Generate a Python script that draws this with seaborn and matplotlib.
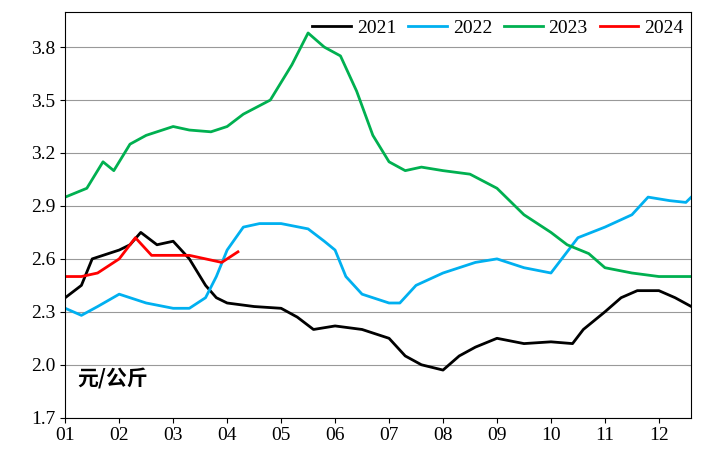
import pandas as pd
import matplotlib.pyplot as plt
import seaborn as sns

# month position (1 = Jan 1) and price
x_2021 = [1, 1.3, 1.5, 2, 2.2, 2.4, 2.7, 3.0, 3.3, 3.6, 3.8, 4, 4.5, 5, 5.3, 5.6, 6, 6.5, 7, 7.3, 7.6, 8,
          8.3, 8.6, 9, 9.5, 10, 10.4, 10.6, 11, 11.3, 11.6, 12, 12.3, 12.6]
y_2021 = [2.38, 2.45, 2.6, 2.65, 2.68, 2.75, 2.68, 2.7, 2.6, 2.45, 2.38, 2.35, 2.33, 2.32, 2.27, 2.2, 2.22,
          2.2, 2.15, 2.05, 2.0, 1.97, 2.05, 2.1, 2.15, 2.12, 2.13, 2.12, 2.2, 2.3, 2.38, 2.42, 2.42, 2.38, 2.33]
x_2022 = [1, 1.3, 1.6, 2, 2.5, 3, 3.3, 3.6, 3.8, 4.0, 4.3, 4.6, 5, 5.5, 5.8, 6, 6.2, 6.5, 7, 7.2, 7.5, 8,
          8.3, 8.6, 9, 9.5, 10, 10.2, 10.5, 11, 11.5, 11.8, 12.2, 12.5, 12.6]
y_2022 = [2.32, 2.28, 2.33, 2.4, 2.35, 2.32, 2.32, 2.38, 2.5, 2.65, 2.78, 2.8, 2.8, 2.77, 2.7, 2.65, 2.5,
          2.4, 2.35, 2.35, 2.45, 2.52, 2.55, 2.58, 2.6, 2.55, 2.52, 2.6, 2.72, 2.78, 2.85, 2.95, 2.93, 2.92, 2.95]
x_2023 = [1, 1.4, 1.7, 1.9, 2.2, 2.5, 3, 3.3, 3.7, 4, 4.3, 4.8, 5.2, 5.5, 5.8, 6.1, 6.4, 6.7, 7, 7.3, 7.6,
          8, 8.5, 9, 9.5, 10, 10.3, 10.7, 11, 11.5, 12, 12.3, 12.6]
y_2023 = [2.95, 3.0, 3.15, 3.1, 3.25, 3.3, 3.35, 3.33, 3.32, 3.35, 3.42, 3.5, 3.7, 3.88, 3.8, 3.75, 3.55,
          3.3, 3.15, 3.1, 3.12, 3.1, 3.08, 3.0, 2.85, 2.75, 2.68, 2.63, 2.55, 2.52, 2.5, 2.5, 2.5]
x_2024 = [1, 1.3, 1.6, 2, 2.3, 2.6, 3, 3.3, 3.6, 3.9, 4.2]
y_2024 = [2.5, 2.5, 2.52, 2.6, 2.72, 2.62, 2.62, 2.62, 2.6, 2.58, 2.64]

years = ['2021', '2022', '2023', '2024']
month_labels = ['01', '02', '03', '04', '05', '06', '07', '08', '09', '10', '11', '12']
y_ticks = [1.7, 2.0, 2.3, 2.6, 2.9, 3.2, 3.5, 3.8]

frames = []
for yr, xs, ys in zip(years, [x_2021, x_2022, x_2023, x_2024], [y_2021, y_2022, y_2023, y_2024]):
    frames.append(pd.DataFrame({'month': xs, 'price': ys, 'year': yr}))
df = pd.concat(frames)

plt.rcParams['font.family'] = ['Liberation Serif', 'Noto Sans CJK SC']
fig, ax = plt.subplots(figsize=(7.09, 4.72), dpi=100)
fig.subplots_adjust(left=0.092, right=0.975, top=0.975, bottom=0.115)

palette = {'2021': '#000000', '2022': '#00B0F0', '2023': '#00B050', '2024': '#FF0000'}
sns.lineplot(data=df, x='month', y='price', hue='year', palette=palette, linewidth=2, ax=ax)

ax.set_xlim(1, 12.6)
ax.set_ylim(1.7, 4.0)
ax.set_xticks(range(1, 13))
ax.set_xticklabels(month_labels, fontsize=14)
ax.set_yticks(y_ticks)
ax.set_yticklabels([f'{v:.1f}' for v in y_ticks], fontsize=14)
ax.yaxis.grid(True, color='#999999', linewidth=0.8)
ax.set_axisbelow(True)
ax.set_xlabel('')
ax.set_ylabel('')
ax.text(0.02, 0.08, '元/公斤', transform=ax.transAxes, fontsize=15, fontweight='bold',
        family='Noto Sans CJK SC')
ax.legend(loc='upper right', ncol=4, frameon=False, fontsize=14, handlelength=2,
          columnspacing=0.6, handletextpad=0.3, borderaxespad=0.0)

fig.savefig('out.png')
